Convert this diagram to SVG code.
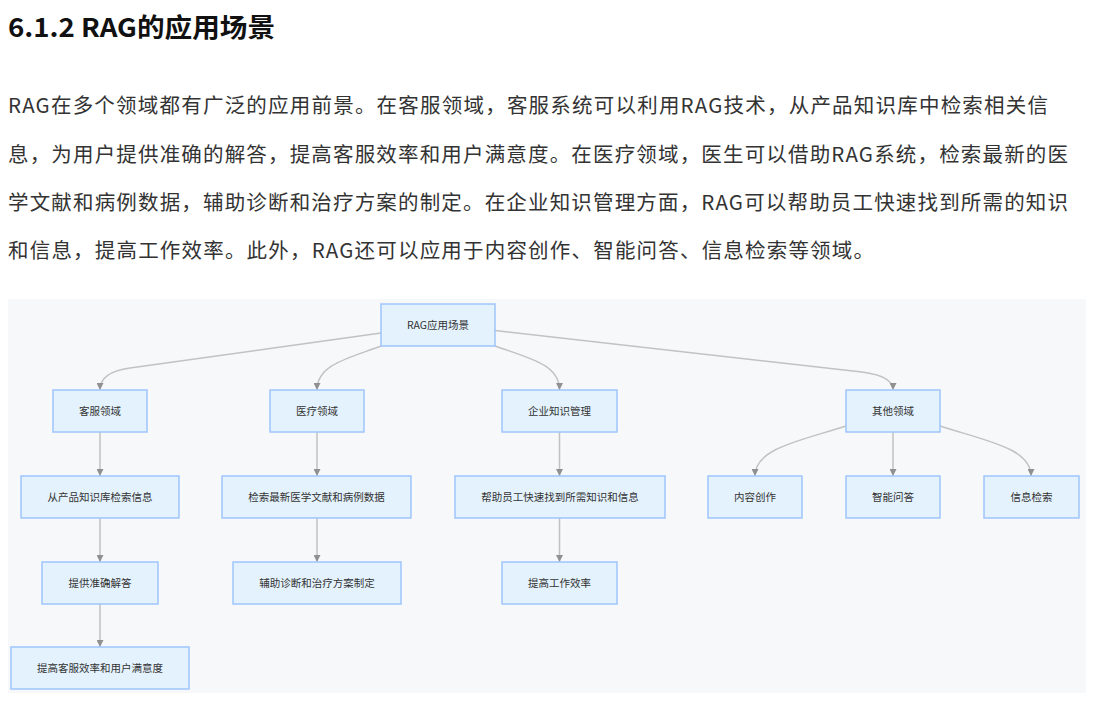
<svg xmlns="http://www.w3.org/2000/svg" width="1108" height="723" viewBox="0 0 1108 723">
<style>
.title{font-family:"Noto Sans CJK SC","Noto Sans",sans-serif;font-size:26px;font-weight:bold;fill:#111}
.body{font-family:"Noto Sans CJK SC","Noto Sans",sans-serif;font-size:20.5px;fill:#333}
.box{fill:#e3f2fd;stroke:#9fc5fb;stroke-width:1.5}
.lbl{font-family:"Noto Sans CJK SC","Noto Sans",sans-serif;font-size:10.5px;fill:#333;text-anchor:middle}
.edge{fill:none;stroke:#c2c2c2;stroke-width:1.5;marker-end:url(#arr)}
</style>
<defs>
<marker id="arr" viewBox="0 0 10 10" refX="10" refY="5" markerWidth="7" markerHeight="7" markerUnits="userSpaceOnUse" orient="auto">
<path d="M0,0 L10,5 L0,10 z" fill="#909090"/>
</marker>
</defs>
<rect width="1108" height="723" fill="#ffffff"/>
<text class="title" x="8" y="37" textLength="267" lengthAdjust="spacingAndGlyphs">6.1.2 RAG的应用场景</text>
<text class="body" x="8" y="113" textLength="1040">RAG在多个领域都有广泛的应用前景。在客服领域，客服系统可以利用RAG技术，从产品知识库中检索相关信</text>
<text class="body" x="8" y="161.5" textLength="1060">息，为用户提供准确的解答，提高客服效率和用户满意度。在医疗领域，医生可以借助RAG系统，检索最新的医</text>
<text class="body" x="8" y="210" textLength="1060">学文献和病例数据，辅助诊断和治疗方案的制定。在企业知识管理方面，RAG可以帮助员工快速找到所需的知识</text>
<text class="body" x="8" y="258" textLength="866">和信息，提高工作效率。此外，RAG还可以应用于内容创作、智能问答、信息检索等领域。</text>
<rect x="8" y="299" width="1078" height="394" fill="#f7f8fa"/>
<g id="connectors">
<path class="edge" d="M381,333 L130,368 Q100,372 100,390"/>
<path class="edge" d="M381,346 C350,358 317,364 317,390"/>
<path class="edge" d="M495,346 C528,358 559.5,364 559.5,390"/>
<path class="edge" d="M495,330.5 L862,372 Q893,376 893,390"/>
<path class="edge" d="M100,432 L100,476"/>
<path class="edge" d="M100,518 L100,562"/>
<path class="edge" d="M100,604 L100,647"/>
<path class="edge" d="M317,432 L317,476"/>
<path class="edge" d="M317,518 L317,562"/>
<path class="edge" d="M559.5,432 L559.5,476"/>
<path class="edge" d="M559.5,518 L559.5,562"/>
<path class="edge" d="M846,426 C800,441 755,448 755,476"/>
<path class="edge" d="M893,432 L893,476"/>
<path class="edge" d="M940,426 C986,441 1031,448 1031,476"/>
</g>
<g id="root"><rect class="box" x="381" y="304" width="114" height="42"/><text class="lbl" x="438" y="329">RAG应用场景</text></g>
<g id="kefu"><rect class="box" x="53" y="390" width="94" height="42"/><text class="lbl" x="100" y="415">客服领域</text></g>
<g id="yiliao"><rect class="box" x="270" y="390" width="94" height="42"/><text class="lbl" x="317" y="415">医疗领域</text></g>
<g id="qiye"><rect class="box" x="502" y="390" width="115" height="42"/><text class="lbl" x="559.5" y="415">企业知识管理</text></g>
<g id="qita"><rect class="box" x="846" y="390" width="94" height="42"/><text class="lbl" x="893" y="415">其他领域</text></g>
<g id="kefu1"><rect class="box" x="21" y="476" width="158" height="42"/><text class="lbl" x="100" y="501">从产品知识库检索信息</text></g>
<g id="yiliao1"><rect class="box" x="222" y="476" width="189" height="42"/><text class="lbl" x="316.5" y="501">检索最新医学文献和病例数据</text></g>
<g id="qiye1"><rect class="box" x="455" y="476" width="210" height="42"/><text class="lbl" x="560" y="501">帮助员工快速找到所需知识和信息</text></g>
<g id="qita1"><rect class="box" x="708" y="476" width="94" height="42"/><text class="lbl" x="755" y="501">内容创作</text></g>
<g id="qita2"><rect class="box" x="846" y="476" width="94" height="42"/><text class="lbl" x="893" y="501">智能问答</text></g>
<g id="qita3"><rect class="box" x="984" y="476" width="95" height="42"/><text class="lbl" x="1031.5" y="501">信息检索</text></g>
<g id="kefu2"><rect class="box" x="42" y="562" width="116" height="42"/><text class="lbl" x="100" y="587">提供准确解答</text></g>
<g id="yiliao2"><rect class="box" x="233" y="562" width="168" height="42"/><text class="lbl" x="317" y="587">辅助诊断和治疗方案制定</text></g>
<g id="qiye2"><rect class="box" x="502" y="562" width="115" height="42"/><text class="lbl" x="559.5" y="587">提高工作效率</text></g>
<g id="kefu3"><rect class="box" x="11" y="647" width="178" height="42"/><text class="lbl" x="100" y="672">提高客服效率和用户满意度</text></g>
</svg>
